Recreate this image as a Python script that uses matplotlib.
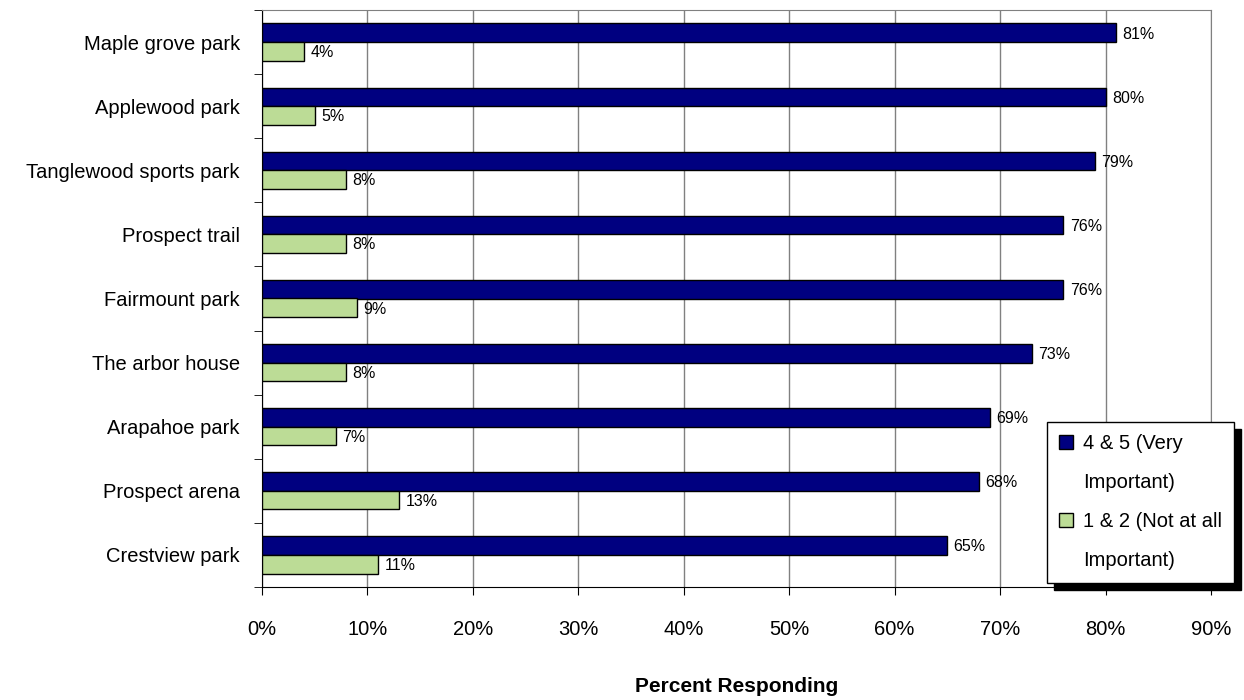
import numpy as np
import matplotlib
matplotlib.use("Agg")
import matplotlib.pyplot as plt
from matplotlib.patches import Rectangle
from matplotlib.ticker import PercentFormatter

plt.rcParams['font.family'] = ['Liberation Sans', 'DejaVu Sans']

parks = ["Maple grove park", "Applewood park", "Tanglewood sports park",
         "Prospect trail", "Fairmount park", "The arbor house",
         "Arapahoe park", "Prospect arena", "Crestview park"]
very_important = [81, 80, 79, 76, 76, 73, 69, 68, 65]
not_important = [4, 5, 8, 8, 9, 8, 7, 13, 11]
xticks = [0, 10, 20, 30, 40, 50, 60, 70, 80, 90]
legend_lines = [["4 & 5 (Very", "Important)"], ["1 & 2 (Not at all", "Important)"]]

fig = plt.figure(figsize=(12.44, 7), dpi=100)
ax = fig.add_axes([262 / 1244, 1 - 587 / 700, 949 / 1244, 577 / 700])

y = np.arange(len(parks))
h = 0.29
b1 = ax.barh(y - h / 2, very_important, height=h, color="#000080",
             edgecolor="black", linewidth=1, zorder=3)
b2 = ax.barh(y + h / 2, not_important, height=h, color="#bcdc96",
             edgecolor="black", linewidth=1, zorder=3)

for bars, vals in [(b1, very_important), (b2, not_important)]:
    for bar, v in zip(bars, vals):
        ax.text(bar.get_width() + 0.6, bar.get_y() + bar.get_height() / 2 + 0.02,
                f"{v}%", va="center", ha="left", fontsize=11.5, zorder=4)

ax.set_ylim(len(parks) - 0.5, -0.5)
ax.set_xlim(0, 90)
ax.set_xticks(xticks)
ax.xaxis.set_major_formatter(PercentFormatter(decimals=0))
ax.set_yticks(y)
ax.set_yticklabels(parks)
ax.set_yticks(np.arange(len(parks) + 1) - 0.5, minor=True)
ax.tick_params(axis="y", which="major", length=0, labelsize=14.5, pad=16)
ax.tick_params(axis="y", which="minor", length=6, direction="out")
ax.tick_params(axis="x", length=6, direction="out", labelsize=14.5, pad=18)

ax.grid(axis="x", color="#808080", linewidth=1, zorder=0)
ax.spines["top"].set_color("#808080")
ax.spines["right"].set_color("#808080")
ax.spines["left"].set_color("black")
ax.spines["bottom"].set_color("black")

ax.set_xlabel("Percent Responding", fontsize=15, fontweight="bold", labelpad=27)

# legend: second line of each label gets an empty handle so the square sits on the first line
blank = Rectangle((0, 0), 1, 1, facecolor="none", edgecolor="none")
handles = [b1, blank, b2, blank]
labels = [legend_lines[0][0], legend_lines[0][1], legend_lines[1][0], legend_lines[1][1]]
leg = fig.legend(handles=handles, labels=labels, loc="upper left",
                 bbox_to_anchor=(1047 / 1244, 1 - 422 / 700, 187 / 1244, 0),
                 mode="expand", fontsize=14.5, frameon=True, fancybox=False,
                 shadow={"color": "black", "alpha": 1, "ox": 5, "oy": -5},
                 edgecolor="black", handlelength=0.7, handleheight=0.7,
                 handletextpad=0.5, labelspacing=1.0, borderaxespad=0,
                 borderpad=0.6)
leg.get_frame().set_linewidth(1)

fig.savefig("out.png", dpi=100)
